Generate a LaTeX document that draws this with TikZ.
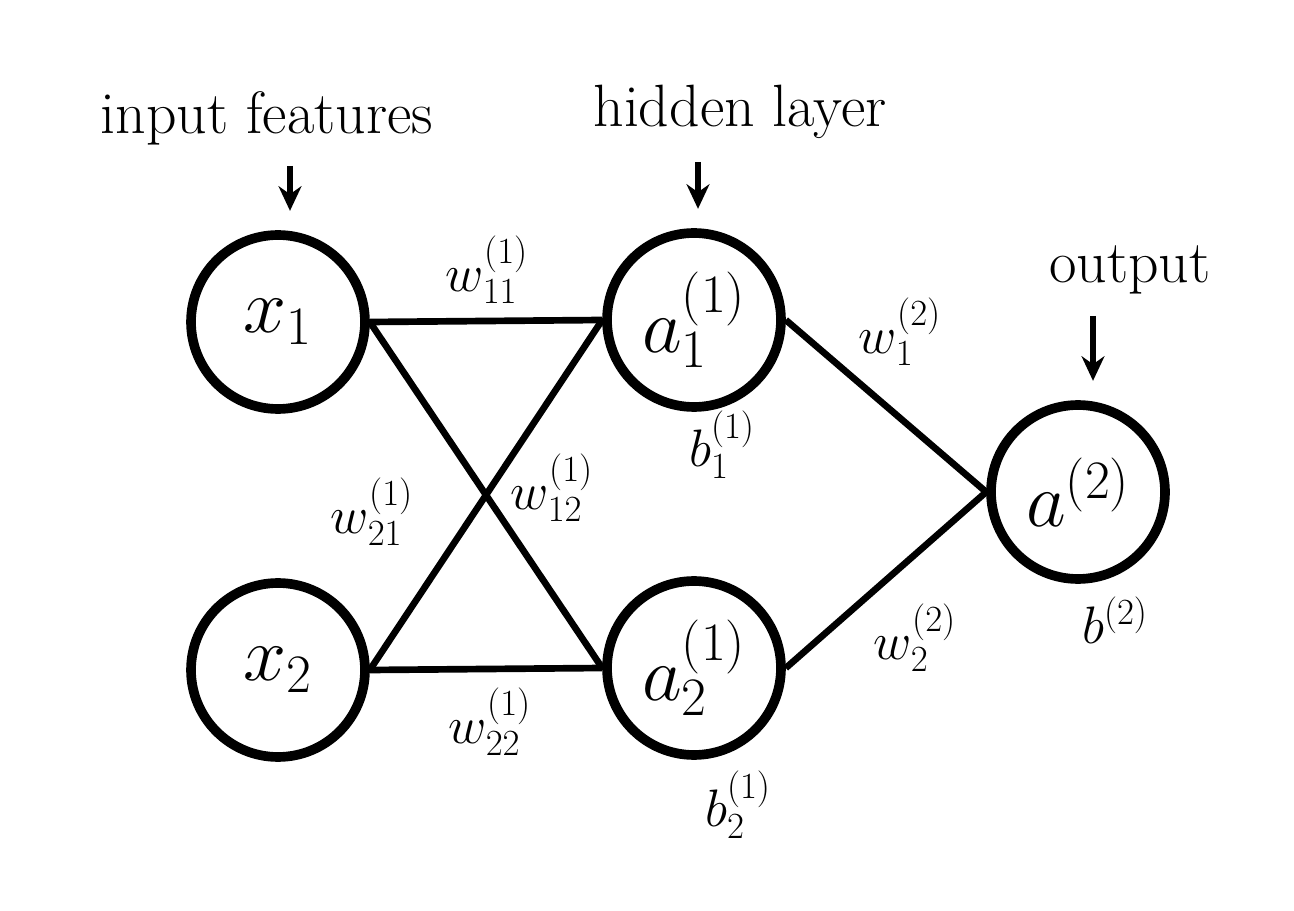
\RequirePackage{fix-cm}
\documentclass[tikz,border=0pt]{standalone}
\usepackage{amsmath}
\usetikzlibrary{arrows.meta,positioning}

\begin{document}
\begin{tikzpicture}[x=0.02cm,y=-0.02cm,
   neuron/.style={circle,draw=black,line width=5.5pt,minimum size=3.48cm,
                  inner sep=0pt,font=\fontsize{44}{50}\selectfont},
   wire/.style={line width=3.8pt},
   wlabel/.style={inner sep=0pt,font=\fontsize{30}{36}\selectfont},
   caption/.style={inner sep=0pt,font=\fontsize{34}{40}\selectfont},
   pointer/.style={line width=3.5pt,shorten >=11pt,-{Stealth[length=14pt,width=13pt]}}]
  \useasboundingbox (0,0) rectangle (1294,911);
  % neurons
  \node[neuron] (x1) at (278,322) {$x_1$};
  \node[neuron] (x2) at (278,670) {$x_2$};
  \node[neuron] (a1) at (694,320) {$a_1^{(1)}$};
  \node[neuron] (a2) at (694,668) {$a_2^{(1)}$};
  \node[neuron] (out) at (1078,492) {$a^{(2)}$};
  % connections
  \draw[wire] (x1.east) -- (a1.west);
  \draw[wire] (x1.east) -- (a2.west);
  \draw[wire] (x2.east) -- (a1.west);
  \draw[wire] (x2.east) -- (a2.west);
  \draw[wire] (a1.east) -- (out.west);
  \draw[wire] (a2.east) -- (out.west);
  % captions
  \node[caption] (inlbl) at (267,118) {input features};
  \node[caption] (hidlbl) at (740,112) {hidden layer};
  \node[caption] (outlbl) at (1130,270) {output};
  \coordinate (intail) at (290,166);
  \coordinate (hidtail) at (698,162);
  \coordinate (outtail) at (1093,316);
  \draw[pointer] (intail) -- (intail |- x1.north);
  \draw[pointer] (hidtail) -- (hidtail |- a1.north);
  \draw[pointer] (outtail) -- (outtail |- out.north);
  % weights and biases
  \node[wlabel] (w11) at (487,270) {$w_{11}^{(1)}$};
  \node[wlabel] (w21) at (372,512) {$w_{21}^{(1)}$};
  \node[wlabel] (w12) at (552,488) {$w_{12}^{(1)}$};
  \node[wlabel] (w22) at (490,722) {$w_{22}^{(1)}$};
  \node[wlabel] (b1) at (722,445) {$b_1^{(1)}$};
  \node[wlabel] (b2) at (738,805) {$b_2^{(1)}$};
  \node[wlabel] (v1) at (900,332) {$w_1^{(2)}$};
  \node[wlabel] (v2) at (915,638) {$w_2^{(2)}$};
  \node[wlabel] (bo) at (1115,620) {$b^{(2)}$};
\end{tikzpicture}
\end{document}
